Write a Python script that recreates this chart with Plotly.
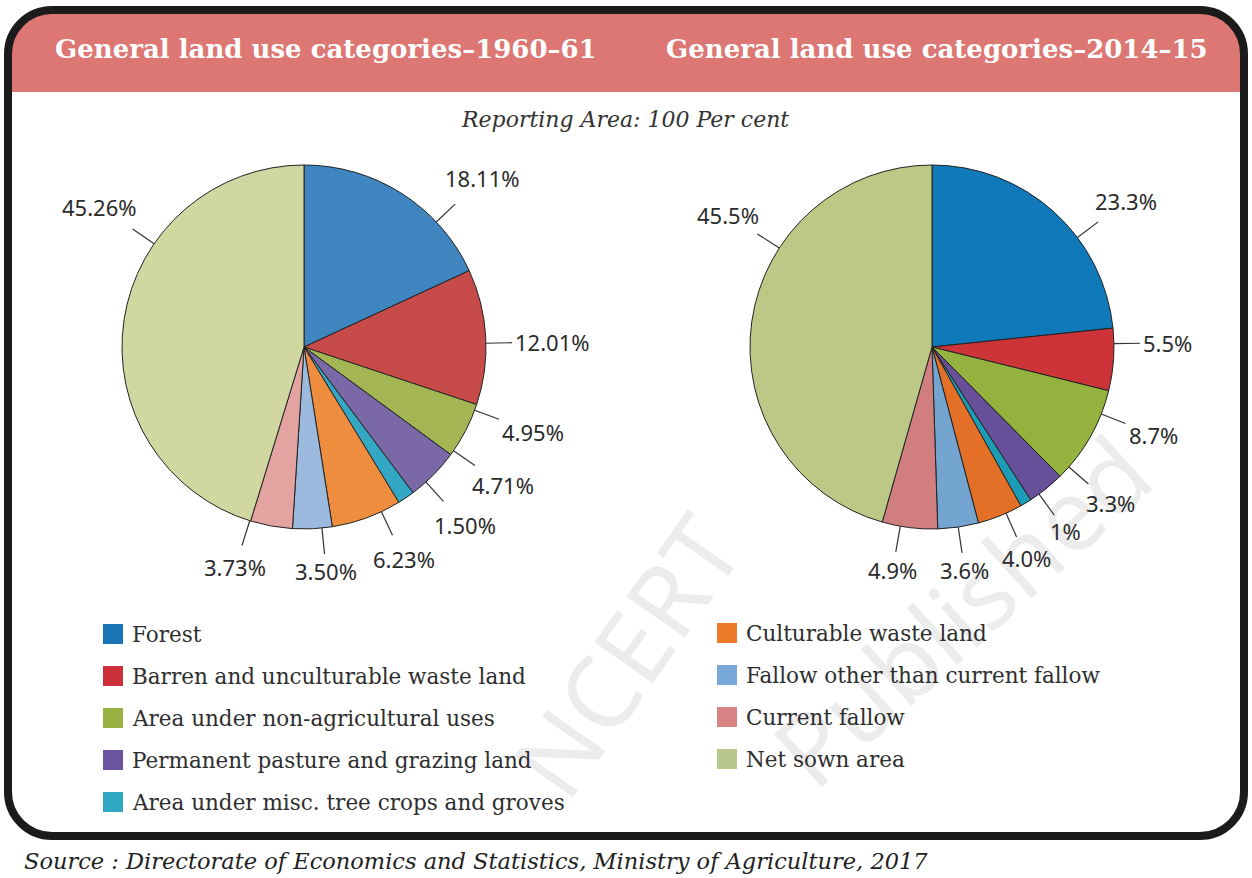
import math
import plotly.graph_objects as go

# ---------------- data ----------------
categories = [
    "Forest",
    "Barren and unculturable waste land",
    "Area under non-agricultural uses",
    "Permanent pasture and grazing land",
    "Area under misc. tree crops and groves",
    "Culturable waste land",
    "Fallow other than current fallow",
    "Current fallow",
    "Net sown area",
]
values_1960 = [18.11, 12.01, 4.95, 4.71, 1.50, 6.23, 3.50, 3.73, 45.26]
labels_1960 = ["18.11%", "12.01%", "4.95%", "4.71%", "1.50%", "6.23%", "3.50%", "3.73%", "45.26%"]
values_2014 = [23.3, 5.5, 8.7, 3.3, 1, 4.0, 3.6, 4.9, 45.5]
labels_2014 = ["23.3%", "5.5%", "8.7%", "3.3%", "1%", "4.0%", "3.6%", "4.9%", "45.5%"]

title_1960 = "General land use categories\u20131960\u201361"
title_2014 = "General land use categories\u20132014\u201315"
subtitle = "Reporting Area: 100 Per cent"
source = "Source : Directorate of Economics and Statistics, Ministry of Agriculture, 2017"
watermark = ["NCERT", "Published"]

# ---------------- style ----------------
W, H = 1252, 878
colors_1960 = ["#3f85bf", "#c64b49", "#a4b653", "#7b68a6", "#34a7c4",
               "#ef8d3f", "#9cb9de", "#e3a3a1", "#d0d7a1"]
colors_2014 = ["#1079b9", "#cc3439", "#96b23e", "#684f99", "#1d9cb5",
               "#e46f26", "#74a4d0", "#d07f7e", "#bcc886"]
legend_colors = ["#1a74b6", "#cc3038", "#98b040", "#6a54a0", "#30a8c4",
                 "#ec7a28", "#78a8d8", "#d88484", "#b8c88c"]
# label angle nudges (degrees) relative to slice mid-angle
nudge_1960 = [14, 2, -7, -10, -8, -5, -3, 7, 26]
nudge_2014 = [11, -5, -8, -10, -5, -2, 0, 3, 25]

R = 182
C1 = (304, 347)
C2 = (932, 347)
HEADER = "#dc7774"
LABEL_FONT = dict(family="Noto Sans", size=22, color="#2b2b2b")
SERIF = "DejaVu Serif"


def px(x, y):
    return x / W, 1 - y / H


def domain(c):
    x0, y0 = px(c[0] - R, c[1] + R)
    x1, y1 = px(c[0] + R, c[1] - R)
    return dict(x=[x0, x1], y=[y0, y1])


fig = go.Figure()
for vals, cols, c in [(values_1960, colors_1960, C1), (values_2014, colors_2014, C2)]:
    fig.add_trace(go.Pie(
        labels=categories, values=vals, sort=False, direction="clockwise",
        rotation=0, textinfo="none", hoverinfo="label+percent",
        marker=dict(colors=cols, line=dict(color="#222222", width=1)),
        domain=domain(c), showlegend=False,
    ))

shapes = []
annotations = []


def rounded_path(x0, y0, x1, y1, r, top_only=False):
    k = 0.5523 * r

    def p(x, y):
        a, b = px(x, y)
        return f"{a:.6f},{b:.6f}"
    d = f"M {p(x0, y0 + r)} C {p(x0, y0 + r - k)} {p(x0 + r - k, y0)} {p(x0 + r, y0)} "
    d += f"L {p(x1 - r, y0)} C {p(x1 - r + k, y0)} {p(x1, y0 + r - k)} {p(x1, y0 + r)} "
    if top_only:
        d += f"L {p(x1, y1)} L {p(x0, y1)} Z"
    else:
        d += f"L {p(x1, y1 - r)} C {p(x1, y1 - r + k)} {p(x1 - r + k, y1)} {p(x1 - r, y1)} "
        d += f"L {p(x0 + r, y1)} C {p(x0 + r - k, y1)} {p(x0, y1 - r + k)} {p(x0, y1 - r)} Z"
    return d


# header band
shapes.append(dict(type="path", xref="paper", yref="paper",
                   path=rounded_path(8, 10, 1244, 92, 44, top_only=True),
                   fillcolor=HEADER, line=dict(width=0), layer="below"))
# frame
shapes.append(dict(type="path", xref="paper", yref="paper",
                   path=rounded_path(8, 10, 1244, 836, 44),
                   fillcolor="rgba(0,0,0,0)", line=dict(color="#1b1b1b", width=8)))

# faint watermark (drawn first so other text sits on top)
for t, x, y, ang in [(watermark[0], 625, 655, -55), (watermark[1], 960, 610, -42)]:
    a, b = px(x, y)
    annotations.append(dict(text=t, x=a, y=b, xref="paper", yref="paper", showarrow=False,
                            textangle=ang, xanchor="center", yanchor="middle",
                            font=dict(family="Noto Sans", size=100, color="rgba(0,0,0,0.075)")))

# titles
for t, x in [(title_1960, 326), (title_2014, 937)]:
    a, b = px(x, 49)
    annotations.append(dict(text=f"<b>{t}</b>", x=a, y=b, xref="paper", yref="paper",
                            showarrow=False, xanchor="center", yanchor="middle",
                            font=dict(family=SERIF, size=26, color="white")))
a, b = px(625, 119)
annotations.append(dict(text=f"<i>{subtitle}</i>", x=a, y=b, xref="paper", yref="paper",
                        showarrow=False, xanchor="center", yanchor="middle",
                        font=dict(family=SERIF, size=22, color="#333333")))
a, b = px(22, 861)
annotations.append(dict(text=f"<i>{source}</i>", x=a, y=b, xref="paper", yref="paper",
                        showarrow=False, xanchor="left", yanchor="middle",
                        font=dict(family=SERIF, size=22.5, color="#222222")))


# pie labels with leader lines (angles derived from values)
def add_labels(vals, labs, nudges, c):
    total = sum(vals)
    cum = 0.0
    for v, lab, nd in zip(vals, labs, nudges):
        mid = (cum + v / 2) / total
        cum += v
        phi = math.radians(mid * 360 + nd)
        s, co = math.sin(phi), math.cos(phi)
        lead = 26
        x0, y0 = c[0] + R * s, c[1] - R * co
        x1, y1 = c[0] + (R + lead) * s, c[1] - (R + lead) * co
        hw = len(lab) * 0.56 * LABEL_FONT["size"] / 2
        hh = 11
        rt = R + lead + 3 + hw * abs(s) + hh * abs(co)
        tx, ty = c[0] + rt * s, c[1] - rt * co
        a0, b0 = px(x0, y0)
        a1, b1 = px(x1, y1)
        shapes.append(dict(type="line", xref="paper", yref="paper", x0=a0, y0=b0, x1=a1, y1=b1,
                           line=dict(color="#333333", width=1.2)))
        ta, tb = px(tx, ty)
        annotations.append(dict(text=lab, x=ta, y=tb, xref="paper", yref="paper", showarrow=False,
                                xanchor="center", yanchor="middle", font=LABEL_FONT))


add_labels(values_1960, labels_1960, nudge_1960, C1)
add_labels(values_2014, labels_2014, nudge_2014, C2)

# legend (two columns)
left_rows = [634, 676, 718, 760, 802]
right_rows = [633, 675, 717, 759]
positions = [(103, y) for y in left_rows] + [(717, y) for y in right_rows]
for name, col, (x, y) in zip(categories, legend_colors, positions):
    a0, b0 = px(x, y - 10)
    a1, b1 = px(x + 20, y + 10)
    shapes.append(dict(type="rect", xref="paper", yref="paper", x0=a0, y0=b1, x1=a1, y1=b0,
                       fillcolor=col, line=dict(width=0)))
    ta, tb = px(x + 27, y)
    annotations.append(dict(text=name, x=ta, y=tb, xref="paper", yref="paper", showarrow=False,
                            xanchor="left", yanchor="middle",
                            font=dict(family=SERIF, size=21.5, color="#2e2e2e")))

fig.update_layout(
    width=W, height=H, margin=dict(l=0, r=0, t=0, b=0),
    paper_bgcolor="white", plot_bgcolor="white",
    shapes=shapes, annotations=annotations, showlegend=False,
)
fig.write_html("out.html", config={"displayModeBar": False},
               post_script="document.body.style.margin='0';document.body.style.overflow='hidden';")
